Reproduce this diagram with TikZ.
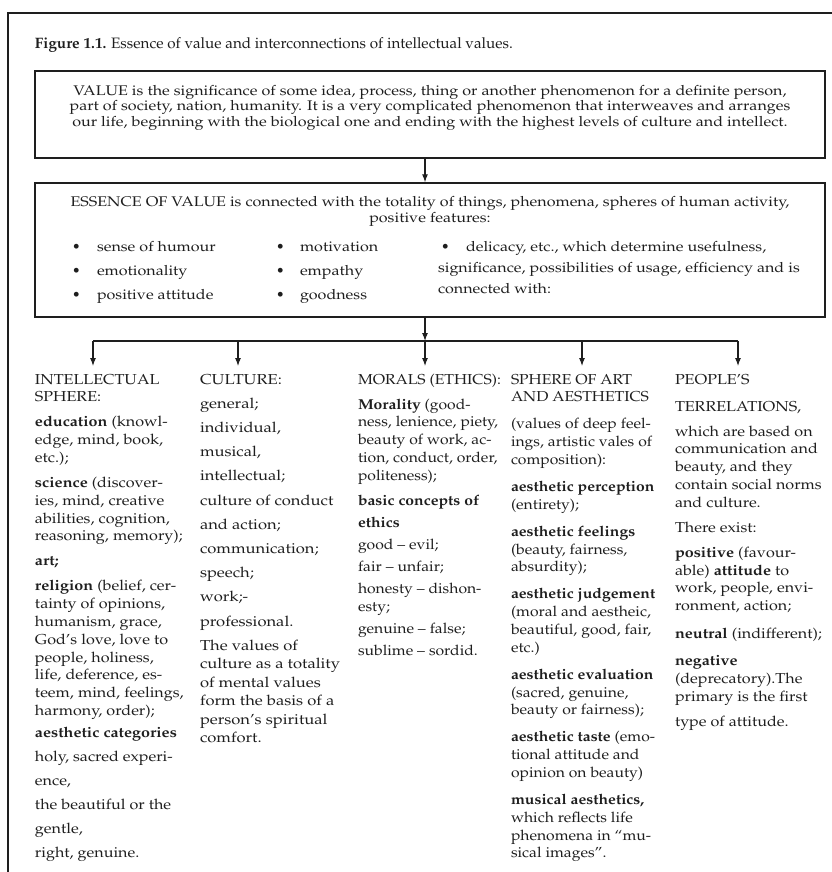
\documentclass[tikz,border=0pt]{standalone}
\usepackage[T1]{fontenc}
\renewcommand{\rmdefault}{ppl}
\usetikzlibrary{arrows.meta}
\definecolor{ink}{RGB}{30,30,30}
\newcommand{\boxfont}{\fontsize{10.5}{11.7}\selectfont}
\newcommand{\colfont}{\fontsize{10.8}{13.35}\selectfont}
\newcommand{\bx}[1]{\scalebox{1.15}[1]{#1}}
\newcommand{\colbody}[2]{\scalebox{#1}[1]{\colfont\begin{tabular}[t]{@{}l@{}}#2\end{tabular}}}
\begin{document}
\begin{tikzpicture}[x=0.75pt,y=-0.75pt,
  txt/.style={inner sep=0pt,outer sep=0pt,anchor=base west,text=ink},
  ctxt/.style={inner sep=0pt,outer sep=0pt,anchor=base,text=ink,font=\boxfont},
  btxt/.style={txt,font=\boxfont},
  framebox/.style={draw=ink,line width=1.2pt},
  boxnode/.style={draw=ink,line width=1.1pt,inner sep=0pt,minimum width=592.5pt},
  conn/.style={draw=ink,line width=0.8pt},
  arr/.style={conn,-{Latex[length=6pt,width=4.5pt]}}]
\useasboundingbox (0,0) rectangle (832,872);
% outer frame
\draw[framebox] (8,880) -- (8,13) -- (840,13);
% title
\node[txt,font=\fontsize{11.3}{14}\selectfont] (title) at (35,48)
  {\scalebox{1.01}[1]{\textbf{Figure 1.1.} Essence of value and interconnections of intellectual values.}};
% box 1
\node[boxnode,minimum height=65.25pt] (box1) at (430,114.5) {};
\node[ctxt] (v1) at (430,95) {\bx{VALUE is the significance of some idea, process, thing or another phenomenon for a definite person,}};
\node[ctxt] (v2) at (430,110.5) {\bx{part of society, nation, humanity. It is a very complicated phenomenon that interweaves and arranges}};
\node[ctxt] (v3) at (430,126) {\bx{our life, beginning with the biological one and ending with the highest levels of culture and intellect.}};
% box 2
\node[boxnode,minimum height=100.5pt] (box2) at (430,250) {};
\node[ctxt] (e1) at (430,206) {\bx{ESSENCE OF VALUE is connected with the totality of things, phenomena, spheres of human activity,}};
\node[ctxt] (e2) at (430,222) {\bx{positive features:}};
\node[btxt] (bu1) at (72,251) {\textbullet};
\node[btxt] (it1) at (97,251) {\bx{sense of humour}};
\node[btxt] (bu2) at (72,275) {\textbullet};
\node[btxt] (it2) at (97,275) {\bx{emotionality}};
\node[btxt] (bu3) at (72,299) {\textbullet};
\node[btxt] (it3) at (97,299) {\bx{positive attitude}};
\node[btxt] (bu4) at (276,251) {\textbullet};
\node[btxt] (it4) at (300,251) {\bx{motivation}};
\node[btxt] (bu5) at (276,275) {\textbullet};
\node[btxt] (it5) at (300,275) {\bx{empathy}};
\node[btxt] (bu6) at (276,299) {\textbullet};
\node[btxt] (it6) at (300,299) {\bx{goodness}};
\node[btxt] (bu7) at (441,251) {\textbullet};
\node[btxt] (it7) at (466,251) {\bx{delicacy, etc., which determine usefulness,}};
\node[btxt] (it8) at (438,272) {\bx{significance, possibilities of usage, efficiency and is}};
\node[btxt] (it9) at (438,293) {\bx{connected with:}};
% connectors
\draw[arr] ([xshift=-3.75pt]box1.south) -- ([xshift=-3.75pt]box2.north);
\coordinate (h1) at (93,341);
\coordinate (h2) at (238,341);
\coordinate (h3) at (425,341);
\coordinate (h4) at (582,341);
\coordinate (h5) at (738,341);
\coordinate (t1) at (93,366);
\coordinate (t2) at (238,366);
\coordinate (t3) at (425,366);
\coordinate (t4) at (582,366);
\coordinate (t5) at (738,366);
\draw[arr] ([xshift=-3.75pt]box2.south) -- (h3);
\draw[conn] (h1) -- (h5);
\draw[arr] (h1) -- (t1);
\draw[arr] (h2) -- (t2);
\draw[arr] (h3) -- (t3);
\draw[arr] (h4) -- (t4);
\draw[arr] (h5) -- (t5);
% columns
\node[txt] (col1) at (35,384) {\colbody{1.12}{%
INTELLECTUAL\\
SPHERE:\\[5.4pt]
\textbf{education} (knowl-\\
edge, mind, book,\\
etc.);\\[5.4pt]
\textbf{science} (discover-\\
ies, mind, creative\\
abilities, cognition,\\
reasoning, memory);\\[5.4pt]
\textbf{art;}\\[5.4pt]
\textbf{religion} (belief, cer-\\
tainty of opinions,\\
humanism, grace,\\
God's love, love to\\
people, holiness,\\
life, deference, es-\\
teem, mind, feelings,\\
harmony, order);\\[3.2pt]
\textbf{aesthetic categories}\\[4.7pt]
holy, sacred experi-\\[4.7pt]
ence,\\[4.7pt]
the beautiful or the\\[4.7pt]
gentle,\\[4.7pt]
right, genuine.}};
\node[txt] (col2) at (200,384) {\colbody{1.15}{%
CULTURE:\\[4.8pt]
general;\\[4.8pt]
individual,\\[4.8pt]
musical,\\[4.8pt]
intellectual;\\[4.8pt]
culture of conduct\\[4.8pt]
and action;\\[4.8pt]
communication;\\[4.8pt]
speech;\\[4.8pt]
work;-\\[4.8pt]
professional.\\[4.8pt]
The values of\\[0.5pt]
culture as a totality\\[0.5pt]
of mental values\\[0.5pt]
form the basis of a\\[0.5pt]
person's spiritual\\[0.5pt]
comfort.}};
\node[txt] (col3) at (358,384) {\colbody{1.09}{%
MORALS (ETHICS):\\[5.4pt]
\textbf{Morality} (good-\\
ness, lenience, piety,\\
beauty of work, ac-\\
tion, conduct, order,\\
politeness);\\[5.4pt]
\textbf{basic concepts of}\\[3.2pt]
\textbf{ethics}\\[3.2pt]
good -- evil;\\[3.2pt]
fair -- unfair;\\[3.2pt]
honesty -- dishon-\\
esty;\\[3.2pt]
genuine -- false;\\[3.2pt]
sublime -- sordid.}};
\node[txt] (col4) at (511,384) {\colbody{1.09}{%
SPHERE OF ART\\
AND AESTHETICS\\[6.9pt]
(values of deep feel-\\
ings, artistic vales of\\
composition):\\[6.9pt]
\textbf{aesthetic perception}\\
(entirety);\\[6.9pt]
\textbf{aesthetic feelings}\\
(beauty, fairness,\\
absurdity);\\[6.9pt]
\textbf{aesthetic judgement}\\
(moral and aestheic,\\
beautiful, good, fair,\\
etc.)\\[6.9pt]
\textbf{aesthetic evaluation}\\
(sacred, genuine,\\
beauty or fairness);\\[6.9pt]
\textbf{aesthetic taste} (emo-\\
tional attitude and\\
opinion on beauty)\\[6.9pt]
\textbf{musical aesthetics,}\\
which reflects life\\
phenomena in ``mu-\\
sical images''.}};
\node[txt] (col5) at (675,384) {\colbody{1.12}{%
PEOPLE'S\\[6.9pt]
TERRELATIONS,\\[5.4pt]
which are based on\\
communication and\\
beauty, and they\\
contain social norms\\
and culture.\\[5.4pt]
There exist:\\[5.4pt]
\textbf{positive} (favour-\\
able) \textbf{attitude} to\\
work, people, envi-\\
ronment, action;\\[7.6pt]
\textbf{neutral} (indifferent);\\[6.9pt]
\textbf{negative}\\
(deprecatory).The\\
primary is the first\\[5.4pt]
type of attitude.}};
\end{tikzpicture}
\end{document}
